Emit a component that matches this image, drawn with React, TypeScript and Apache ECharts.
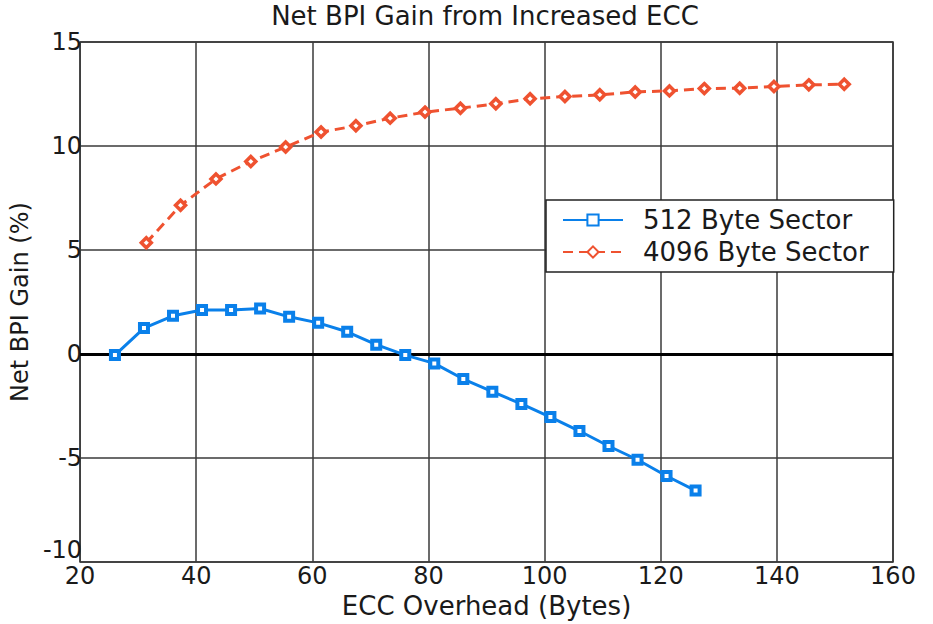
import React, { useEffect, useRef } from "react";
import * as echarts from "echarts";

const titleText = "Net BPI Gain from Increased ECC";
const xAxisName = "ECC Overhead (Bytes)";
const yAxisName = "Net BPI Gain (%)";
const seriesNames = ["512 Byte Sector", "4096 Byte Sector"];

const blueX = [26, 31, 36, 41, 46, 51, 56, 61, 66, 71, 76, 81, 86, 91, 96, 101, 106, 111, 116, 121, 126];
const blueY = [-0.05, 1.25, 1.84, 2.12, 2.12, 2.19, 1.79, 1.5, 1.07, 0.45, -0.05, -0.45, -1.2, -1.81, -2.4, -3.03, -3.7, -4.42, -5.08, -5.86, -6.56];

const redX = [31.4, 37.3, 43.4, 49.4, 55.4, 61.5, 67.5, 73.4, 79.4, 85.5, 91.6, 97.5, 103.5, 109.5, 115.6, 121.5, 127.5, 133.6, 139.5, 145.5, 151.6];
const redY = [5.35, 7.15, 8.42, 9.26, 9.95, 10.67, 10.97, 11.34, 11.63, 11.82, 12.03, 12.27, 12.38, 12.46, 12.6, 12.65, 12.76, 12.78, 12.86, 12.94, 12.97];

const xMin = 20, xMax = 160, xStep = 20;
const yMin = -10, yMax = 15, yStep = 5;

const BLUE = "#0a80ea";
const RED = "#ef5230";
const FONT = "DejaVu Sans";

export default function App() {
  const ref = useRef<HTMLDivElement>(null);
  useEffect(() => {
    if (!ref.current) return;
    const chart = echarts.init(ref.current, null, { renderer: "svg" });
    const blueData = blueX.map((x, i) => [x, blueY[i]]);
    const redData = redX.map((x, i) => [x, redY[i]]);
    chart.setOption({
      animation: false,
      backgroundColor: "#ffffff",
      title: {
        text: titleText,
        left: 485,
        textAlign: "center",
        top: 3,
        padding: 0,
        textStyle: { fontFamily: FONT, fontSize: 26, fontWeight: "normal", color: "#1a1a1a" },
      },
      grid: {
        left: 76, right: 40, top: 42, bottom: 60,
        show: true, borderColor: "#333", borderWidth: 1.5, backgroundColor: "transparent",
      },
      legend: {
        orient: "vertical",
        left: 546,
        top: 200,
        padding: [7, 25, 7, 16],
        itemGap: 6,
        itemWidth: 60,
        itemHeight: 14,
        backgroundColor: "#fff",
        borderColor: "#222",
        borderWidth: 1.5,
        borderRadius: 0,
        textStyle: { fontFamily: FONT, fontSize: 26, color: "#1a1a1a", lineHeight: 26, padding: [0, 0, 0, 15] },
        data: seriesNames,
      },
      xAxis: {
        type: "value",
        min: xMin, max: xMax, interval: xStep,
        name: xAxisName,
        nameLocation: "middle",
        nameGap: 28,
        nameTextStyle: { fontFamily: FONT, fontSize: 26, color: "#1a1a1a" },
        axisLine: { show: false },
        axisTick: { show: false },
        axisLabel: { fontFamily: FONT, fontSize: 24, color: "#1a1a1a", margin: 2 },
        splitLine: { show: true, lineStyle: { color: "#3a3a3a", width: 1.5 } },
      },
      yAxis: {
        type: "value",
        min: yMin, max: yMax, interval: yStep,
        name: yAxisName,
        nameLocation: "middle",
        nameGap: 34,
        nameTextStyle: { fontFamily: FONT, fontSize: 24, color: "#1a1a1a" },
        axisLine: { show: false },
        axisTick: { show: false },
        axisLabel: {
          fontFamily: FONT, fontSize: 24, color: "#1a1a1a", margin: -2,
          verticalAlignMinLabel: "bottom",
        },
        splitLine: { show: true, lineStyle: { color: "#3a3a3a", width: 1.5 } },
      },
      series: [
        {
          name: seriesNames[0],
          type: "line",
          data: blueData,
          symbol: "rect",
          symbolSize: 8,
          showAllSymbol: true,
          lineStyle: { color: BLUE, width: 3 },
          itemStyle: { color: "#ffffff", borderColor: BLUE, borderWidth: 4 },
          z: 3,
          markLine: {
            silent: true,
            symbol: "none",
            label: { show: false },
            lineStyle: { color: "#000", width: 3, type: "solid" },
            data: [{ yAxis: 0 }],
            z: 1,
          },
        },
        {
          name: seriesNames[1],
          type: "line",
          data: redData,
          symbol: "diamond",
          symbolSize: 10,
          showAllSymbol: true,
          lineStyle: { color: RED, width: 3, type: [10, 6] },
          itemStyle: { color: "#ffffff", borderColor: RED, borderWidth: 3.5 },
          z: 3,
        },
      ],
    });
    return () => chart.dispose();
  }, []);
  return (
    <div
      ref={ref}
      style={{ position: "fixed", left: 0, top: 0, width: 933, height: 624, background: "#fff" }}
    />
  );
}
